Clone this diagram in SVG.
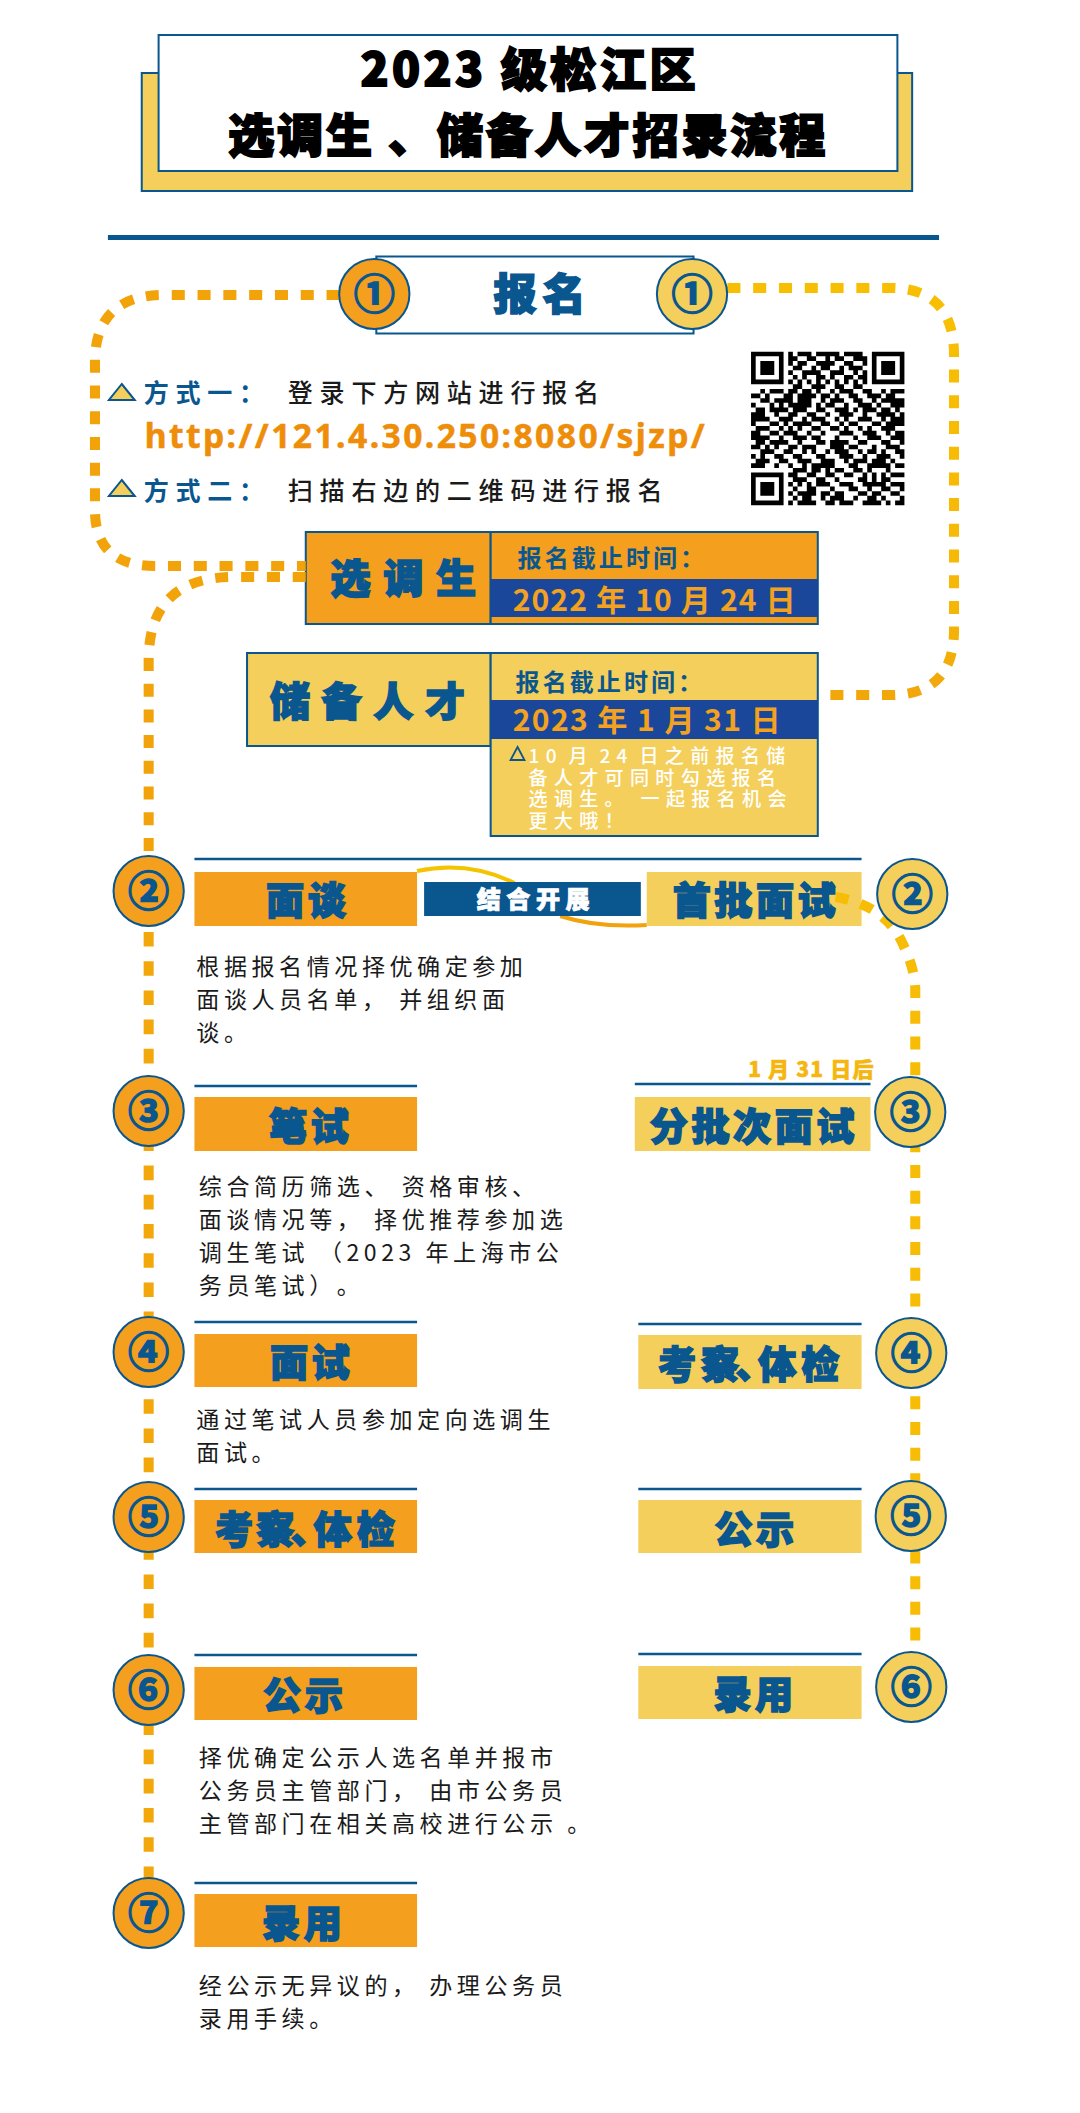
<svg xmlns="http://www.w3.org/2000/svg" width="1080" height="2113" viewBox="0 0 1080 2113">
<style>
text{font-family:"Noto Sans CJK SC","Noto Sans",sans-serif;text-spacing-trim:space-all}
.o{fill:#f49f1e}.y{fill:#f4cf5c}
.fr{stroke:#0a568f;stroke-width:2}
.rule{stroke:#0a568f;stroke-width:2.500;fill:none}
.h{font-weight:900;font-size:38px;fill:#0a568f;stroke:#0a568f;stroke-width:1.600;letter-spacing:3.500px}
.title{font-weight:900;fill:#000;stroke:#000;stroke-width:1.800;font-size:46px}
.b{font-size:23px;letter-spacing:4.500px;fill:#1a1a1a}
.way{font-size:25px;letter-spacing:6.700px}
.dead{font-size:24px;letter-spacing:3px;fill:#0a568f;font-weight:700}
.date{font-size:30px;fill:#f2a21e;font-weight:700}
.note{font-size:19px;letter-spacing:6.300px;fill:#fff;font-weight:500}
.c{stroke:#0a568f;stroke-width:2}
.n{font-size:41px;font-weight:700;fill:#0a568f;stroke:#0a568f;stroke-width:1.500;text-anchor:middle}
.d{fill:none;stroke-width:10}
.d1{stroke-dasharray:13 12.700}
</style>
<defs>
<linearGradient id="gr" gradientUnits="userSpaceOnUse" x1="0" y1="288" x2="0" y2="700"><stop offset="0" stop-color="#f8bf02"/><stop offset=".75" stop-color="#f6b806"/><stop offset="1" stop-color="#f1a60a"/></linearGradient>
</defs>
<rect width="1080" height="2113" fill="#fff"/>
<g id="diagram" transform="translate(-.3 0) scale(1.0038 1)">
<g id="title">
<rect x="141.500" y="73" width="767.500" height="118" class="y fr"/>
<rect x="158.300" y="35" width="736" height="136" fill="#fff" class="fr"/>
<text class="title" x="359.400" y="86" textLength="334">2023 级松江区</text>
<text class="title" x="227.600" y="152" textLength="595">选调生 、储备人才招录流程</text>
</g>
<path id="top-rule" d="M107.800 237.500H935.800" stroke="#0a568f" stroke-width="5"/>
<g id="boxes">
<g id="box-signup">
<rect x="375.200" y="256.500" width="316" height="77" fill="#fff" class="fr"/>
<text x="492" y="310" font-size="43" font-weight="900" fill="#0a568f" stroke="#0a568f" stroke-width="1.600" letter-spacing="6">报名</text>
</g>
<g id="way1">
<path d="M121.600 384L134.500 400H108.800Z" class="y fr"/>
<text class="way" x="143.400" y="402" fill="#0a568f" font-weight="700">方式一：</text>
<text class="way" x="287" y="402" fill="#1a1a1a" font-weight="500">登录下方网站进行报名</text>
</g>
<text id="url" x="144.400" y="448" font-size="33.500" font-weight="700" fill="#ee8d0a" stroke="#ee8d0a" stroke-width=".5" style="font-family:'Noto Sans',sans-serif" textLength="558">http://121.4.30.250:8080/sjzp/</text>
<g id="way2">
<path d="M121.600 480L134.500 496H108.800Z" class="y fr"/>
<text class="way" x="143.400" y="500" fill="#0a568f" font-weight="700">方式二：</text>
<text class="way" x="287" y="500" fill="#1a1a1a" font-weight="500">扫描右边的二维码进行报名</text>
</g>
<path id="qr" transform="translate(748.500 351.700) scale(4.63 4.65) translate(0 .5)" stroke="#000" stroke-width="1" fill="none" d="M0 0h7M8 0h1M10 0h3M14 0h5M20 0h4M26 0h7M0 1h1M6 1h1M8 1h2M12 1h2M16 1h1M18 1h2M22 1h3M26 1h1M32 1h1M0 2h1M2 2h3M6 2h1M8 2h1M10 2h2M14 2h4M20 2h2M24 2h1M26 2h1M28 2h3M32 2h1M0 3h1M2 3h3M6 3h1M9 3h2M13 3h1M15 3h2M19 3h1M21 3h3M26 3h1M28 3h3M32 3h1M0 4h1M2 4h3M6 4h1M8 4h1M11 4h4M17 4h3M22 4h1M24 4h1M26 4h1M28 4h3M32 4h1M0 5h1M6 5h1M9 5h1M11 5h1M14 5h2M17 5h1M20 5h2M23 5h2M26 5h1M32 5h1M0 6h7M8 6h1M10 6h1M12 6h1M14 6h1M16 6h1M18 6h1M20 6h1M22 6h1M24 6h1M26 6h7M9 7h2M13 7h3M18 7h2M22 7h2M2 8h1M4 8h3M8 8h2M11 8h2M14 8h1M17 8h1M19 8h3M24 8h2M28 8h1M30 8h3M0 9h2M3 9h1M7 9h2M10 9h4M15 9h2M18 9h1M21 9h2M25 9h3M29 9h2M2 10h2M5 10h4M10 10h3M15 10h1M17 10h3M22 10h2M26 10h1M28 10h5M0 11h1M4 11h1M6 11h1M8 11h5M14 11h1M16 11h2M20 11h1M23 11h3M27 11h1M30 11h3M1 12h2M4 12h4M9 12h3M14 12h2M18 12h3M22 12h1M24 12h3M28 12h2M31 12h1M0 13h3M5 13h1M8 13h2M12 13h2M16 13h1M19 13h3M24 13h1M27 13h4M32 13h1M0 14h4M6 14h3M11 14h1M13 14h3M18 14h1M20 14h1M23 14h3M28 14h1M30 14h3M0 15h1M4 15h2M7 15h1M9 15h4M15 15h2M19 15h1M21 15h2M26 15h2M29 15h4M1 16h3M6 16h1M8 16h1M10 16h1M13 16h2M17 16h2M20 16h1M23 16h1M25 16h1M28 16h3M0 17h2M4 17h2M7 17h3M12 17h1M15 17h1M19 17h3M24 17h3M29 17h1M31 17h2M0 18h4M6 18h1M9 18h3M13 18h2M18 18h1M22 18h1M25 18h3M30 18h3M1 19h2M4 19h4M10 19h1M14 19h2M17 19h4M23 19h2M28 19h2M32 19h1M0 20h2M3 20h1M5 20h1M8 20h2M11 20h3M17 20h3M21 20h2M26 20h1M29 20h3M2 21h3M7 21h2M11 21h1M13 21h1M16 21h1M18 21h3M23 21h1M25 21h2M28 21h1M31 21h2M0 22h1M2 22h1M5 22h2M9 22h2M14 22h2M19 22h3M24 22h1M27 22h3M32 22h1M1 23h3M6 23h2M10 23h3M15 23h3M20 23h1M22 23h3M26 23h3M30 23h1M0 24h3M5 24h1M8 24h1M11 24h1M13 24h5M21 24h2M25 24h5M31 24h2M9 25h3M13 25h2M16 25h1M18 25h2M22 25h2M25 25h1M29 25h1M0 26h7M8 26h2M12 26h2M16 26h2M20 26h2M24 26h1M26 26h1M28 26h1M30 26h3M0 27h1M6 27h1M9 27h3M14 27h2M18 27h1M23 27h2M26 27h1M28 27h2M0 28h1M2 28h3M6 28h1M8 28h1M10 28h1M12 28h1M14 28h3M19 28h3M24 28h5M30 28h3M0 29h1M2 29h3M6 29h1M9 29h1M12 29h2M17 29h1M21 29h2M25 29h1M28 29h2M32 29h1M0 30h1M2 30h3M6 30h1M8 30h1M10 30h4M15 30h2M18 30h2M23 30h2M26 30h2M30 30h2M0 31h1M6 31h1M9 31h1M11 31h2M15 31h1M17 31h3M22 31h1M25 31h2M28 31h1M32 31h1M0 32h7M8 32h1M10 32h4M16 32h2M19 32h3M24 32h4M29 32h1M31 32h2"/>
<g id="box-xds">
<rect x="304.900" y="532" width="184.200" height="92" class="o fr"/>
<rect x="489.100" y="532" width="325.900" height="92" class="o fr"/>
<rect x="489.100" y="579" width="325.900" height="38" fill="#1b479b"/>
<text class="h" x="329.600" y="593" style="font-size:40px;letter-spacing:12.500px">选调生</text>
<text class="dead" x="515.900" y="567">报名截止时间：</text>
<text class="date" x="511" y="611" textLength="282">2022 年 10 月 24 日</text>
</g>
<g id="box-cbrc">
<rect x="246.400" y="653" width="242.700" height="93" class="y fr"/>
<rect x="489.100" y="653" width="325.900" height="183" class="y fr"/>
<rect x="489.100" y="700" width="325.900" height="39" fill="#1b479b"/>
<text class="h" x="269.200" y="716" style="font-size:40px;letter-spacing:11.500px">储备人才</text>
<text class="dead" x="513.900" y="691">报名截止时间：</text>
<text class="date" x="511" y="731" textLength="267">2023 年 1 月 31 日</text>
<path d="M515.900 747L522.800 760H508.900Z" fill="none" stroke="#0a568f" stroke-width="1.800"/>
<text class="note" x="526.800" y="763" style="word-spacing:-5px">10 月 24 日之前报名储</text>
<text class="note" x="526.800" y="785">备人才可同时勾选报名</text>
<text class="note" x="526.800" y="806">选调生。 一起报名机会</text>
<text class="note" x="526.800" y="828">更大哦！</text>
</g>
<g id="sec2">
<path class="rule" d="M194 859H858.600"/>
<rect x="194" y="872" width="221.800" height="54" class="o"/>
<text class="h" x="265.300" y="914">面谈</text>
<path d="M415.800 871Q466.300 860 512.900 883" fill="none" stroke="#f5c400" stroke-width="4"/>
<path d="M558.400 916Q595.100 928 644.600 925" fill="none" stroke="#f2a20c" stroke-width="4"/>
<rect x="422.800" y="882" width="215.900" height="34" fill="#0a568f"/>
<text x="475.200" y="908" font-size="24" font-weight="900" fill="#fff" stroke="#fff" stroke-width=".8" letter-spacing="5.500">结合开展</text>
<rect x="644.600" y="872" width="214" height="54" class="y"/>
<text class="h" x="670.400" y="914">首批面试</text>
<text x="195.900" y="975" class="b">根据报名情况择优确定参加</text>
<text x="195.900" y="1008" class="b">面谈人员名单， 并组织面</text>
<text x="195.900" y="1041" class="b">谈。</text>
</g>
<g id="sec3">
<path class="rule" d="M194 1086H415.800"/>
<rect x="194" y="1097" width="221.800" height="54" class="o"/>
<text class="h" x="268.200" y="1140">笔试</text>
<text x="198.400" y="1195" class="b">综合简历筛选、 资格审核、</text>
<text x="198.400" y="1228" class="b">面谈情况等， 择优推荐参加选</text>
<text x="198.400" y="1261" class="b">调生笔试 （2023 年上海市公</text>
<text x="198.400" y="1294" class="b">务员笔试）。</text>
<text x="745.600" y="1077" font-size="21" font-weight="900" fill="#f4b60f" stroke="#f4b60f" stroke-width=".5" textLength="125">1 月 31 日后</text>
<path class="rule" d="M632.700 1084H867.500"/>
<rect x="632.700" y="1097" width="234.800" height="54" class="y"/>
<text class="h" x="647.600" y="1140">分批次面试</text>
</g>
<g id="sec4">
<path class="rule" d="M194 1322H415.800"/>
<rect x="194" y="1334" width="221.800" height="53" class="o"/>
<text class="h" x="269.200" y="1376">面试</text>
<text x="195.900" y="1428" class="b">通过笔试人员参加定向选调生</text>
<text x="195.900" y="1461" class="b">面试。</text>
<path class="rule" d="M636.200 1324H858.600"/>
<rect x="636.200" y="1335" width="222.400" height="54" class="y"/>
<text class="h" x="655.700 698.600 733 755.700 798.600" y="1378" style="letter-spacing:0">考察、体检</text>
</g>
<g id="sec5">
<path class="rule" d="M194 1489H415.800"/>
<rect x="194" y="1500" width="221.800" height="53" class="o"/>
<text class="h" x="214.600 255.700 290 312.900 355.700" y="1543" style="letter-spacing:0">考察、体检</text>
<path class="rule" d="M636.200 1489H858.600"/>
<rect x="636.200" y="1500" width="222.400" height="53" class="y"/>
<text class="h" x="712" y="1543">公示</text>
</g>
<g id="sec6">
<path class="rule" d="M194 1655H415.800"/>
<rect x="194" y="1667" width="221.800" height="53" class="o"/>
<text class="h" x="262.300" y="1709">公示</text>
<text x="198.400" y="1766" class="b">择优确定公示人选名单并报市</text>
<text x="198.400" y="1799" class="b">公务员主管部门， 由市公务员</text>
<text x="198.400" y="1832" class="b">主管部门在相关高校进行公示 。</text>
<path class="rule" d="M636.200 1654H858.600"/>
<rect x="636.200" y="1666" width="222.400" height="53" class="y"/>
<text class="h" x="711" y="1708">录用</text>
</g>
<g id="sec7">
<path class="rule" d="M194 1883H415.800"/>
<rect x="194" y="1894" width="221.800" height="53" class="o"/>
<text class="h" x="261.300" y="1937">录用</text>
<text x="198.400" y="1994" class="b">经公示无异议的， 办理公务员</text>
<text x="198.400" y="2027" class="b">录用手续。</text>
</g>
</g>
<g id="connectors">
<path class="d d1" stroke="#f2a30a" d="M338.600 295H164.200Q94.900 295 94.900 362V510Q94.900 566 154.300 566H304.900"/>
<path class="d d1" stroke="#f2a30a" d="M304.900 577H233.600Q148.400 577 148.400 660V870"/>
<path class="d" stroke="#f2a70a" stroke-dasharray="14.600 14.600" d="M148.400 873.600V1885"/>
<path class="d d1" stroke="url(#gr)" d="M724.900 288H887.300Q950.700 288 950.700 355V630Q950.700 695 887.300 695H825.900"/>
<path class="d d1" stroke="#f7bc05" d="M832.800 897Q882.400 905 900.200 945Q912.100 970 912.100 990V1660"/>
</g>
<g id="nodes">
<g id="n1l"><circle cx="373.200" cy="294" r="35" class="o c"/><text class="n" x="373.200" y="309">①</text></g>
<g id="n1r"><circle cx="689.700" cy="294" r="35" class="y c"/><text class="n" x="689.700" y="309">①</text></g>
<g id="n2l"><circle cx="148.400" cy="891" r="35" class="o c"/><text class="n" x="148.400" y="906">②</text></g>
<g id="n3l"><circle cx="148.400" cy="1111" r="35" class="o c"/><text class="n" x="148.400" y="1126">③</text></g>
<g id="n4l"><circle cx="148.400" cy="1352" r="35" class="o c"/><text class="n" x="148.400" y="1367">④</text></g>
<g id="n5l"><circle cx="148.400" cy="1517" r="35" class="o c"/><text class="n" x="148.400" y="1532">⑤</text></g>
<g id="n6l"><circle cx="148.400" cy="1690" r="35" class="o c"/><text class="n" x="148.400" y="1705">⑥</text></g>
<g id="n7l"><circle cx="148.400" cy="1913" r="35" class="o c"/><text class="n" x="148.400" y="1928">⑦</text></g>
<g id="n2r"><circle cx="909.100" cy="894" r="35" class="y c"/><text class="n" x="909.100" y="909">②</text></g>
<g id="n3r"><circle cx="907.100" cy="1112" r="35" class="y c"/><text class="n" x="907.100" y="1127">③</text></g>
<g id="n4r"><circle cx="908.100" cy="1353" r="35" class="y c"/><text class="n" x="908.100" y="1368">④</text></g>
<g id="n5r"><circle cx="907.600" cy="1516" r="35" class="y c"/><text class="n" x="907.600" y="1531">⑤</text></g>
<g id="n6r"><circle cx="908.100" cy="1687" r="35" class="y c"/><text class="n" x="908.100" y="1702">⑥</text></g>
</g>
</g>
</svg>
